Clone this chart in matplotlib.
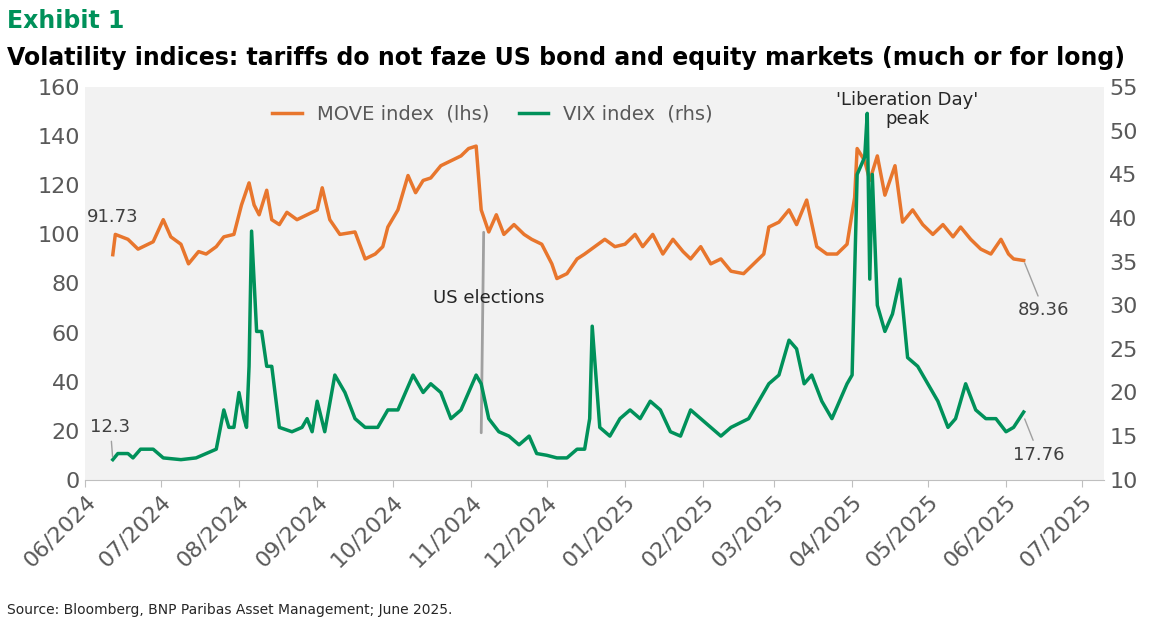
import matplotlib.pyplot as plt
import matplotlib.dates as mdates
import numpy as np
import pandas as pd

start = pd.Timestamp("2024-06-01")

move_days = [11, 12, 17, 21, 27, 31, 34, 38, 41, 45, 48, 52, 55, 59, 62, 65, 67, 69, 72, 74, 77, 80, 84, 88,
             92, 94, 97, 101, 107, 111, 115, 118, 120, 124, 128, 131, 134, 137, 141, 145, 149, 152, 155, 157,
             160, 163, 166, 170, 174, 177, 181, 185, 187, 191, 195, 198, 202, 206, 210, 214, 218, 221, 225,
             229, 233, 237, 240, 244, 248, 252, 256, 261, 265, 269, 271, 275, 279, 282, 286, 290, 294, 298,
             302, 305, 306, 309, 311, 314, 317, 321, 324, 328, 332, 336, 340, 344, 347, 351, 355, 359, 363,
             366, 368, 372]
move_vals = [91.73, 100, 98, 94, 97, 106, 99, 96, 88, 93, 92, 95, 99, 100, 112, 121, 112, 108, 118, 106,
             104, 109, 106, 108, 110, 119, 106, 100, 101, 90, 92, 95, 103, 110, 124, 117, 122, 123, 128,
             130, 132, 135, 136, 110, 101, 108, 100, 104, 100, 98, 96, 88, 82, 84, 90, 92, 95, 98, 95, 96,
             100, 95, 100, 92, 98, 93, 90, 95, 88, 90, 85, 84, 88, 92, 103, 105, 110, 104, 114, 95, 92, 92,
             96, 115, 135, 130, 122, 132, 116, 128, 105, 110, 104, 100, 104, 99, 103, 98, 94, 92, 98, 92,
             90, 89.36]

# VIX: (day offset from 2024-06-01, level)
vix_points = [
    (11, 12.3), (13, 13.0), (17, 13.0), (19, 12.5), (22, 13.5), (27, 13.5), (31, 12.5), (38, 12.3),
    (44, 12.5), (48, 13.0), (52, 13.5), (55, 18.0), (57, 16.0), (59, 16.0), (61, 20.0), (63, 17.0),
    (64, 16.0), (65, 23.0), (66, 38.5), (68, 27.0), (70, 27.0), (72, 23.0), (74, 23.0), (77, 16.0),
    (82, 15.5), (86, 16.0), (88, 17.0), (90, 15.5), (92, 19.0), (95, 15.5), (99, 22.0), (103, 20.0),
    (107, 17.0), (111, 16.0), (116, 16.0), (120, 18.0), (124, 18.0), (127, 20.0), (130, 22.0),
    (134, 20.0), (137, 21.0), (141, 20.0), (145, 17.0), (149, 18.0), (152, 20.0), (155, 22.0),
    (157, 21.0), (160, 17.0), (164, 15.5), (168, 15.0), (172, 14.0), (176, 15.0), (179, 13.0),
    (183, 12.8), (187, 12.5), (191, 12.5), (195, 13.5), (198, 13.5), (200, 17.0), (201, 27.6),
    (204, 16.0), (208, 15.0), (212, 17.0), (216, 18.0), (220, 17.0), (224, 19.0), (228, 18.0),
    (232, 15.5), (236, 15.0), (240, 18.0), (244, 17.0), (248, 16.0), (252, 15.0), (256, 16.0),
    (263, 17.0), (267, 19.0), (271, 21.0), (275, 22.0), (279, 26.0), (282, 25.0), (285, 21.0),
    (288, 22.0), (292, 19.0), (296, 17.0), (302, 21.0), (304, 22.0), (306, 45.0), (309, 47.0),
    (310, 52.0), (311, 33.0), (312, 45.0), (314, 30.0), (317, 27.0), (320, 29.0), (323, 33.0),
    (326, 24.0), (330, 23.0), (334, 21.0), (338, 19.0), (342, 16.0), (345, 17.0), (349, 21.0),
    (353, 18.0), (357, 17.0), (361, 17.0), (365, 15.5), (368, 16.0), (372, 17.76),
]
vix_days = [d for d, v in vix_points]
vix_vals = [v for d, v in vix_points]

move_dates = start + pd.to_timedelta(move_days, unit="D")
vix_dates = start + pd.to_timedelta(vix_days, unit="D")

orange = "#E8762D"
green = "#00915A"
grey = "#595959"

fig = plt.figure(figsize=(11.65, 6.23), dpi=100)
ax = fig.add_axes([0.073, 0.23, 0.875, 0.63])
ax2 = ax.twinx()
ax.set_facecolor("#f2f2f2")

l1, = ax.plot(move_dates, move_vals, color=orange, lw=2.5, label="MOVE index  (lhs)")
l2, = ax2.plot(vix_dates, vix_vals, color=green, lw=2.5, label="VIX index  (rhs)")

ax.set_ylim(0, 160)
ax2.set_ylim(10, 55)
ax.set_yticks(range(0, 161, 20))
ax2.set_yticks(range(10, 56, 5))
ax.set_xlim(pd.Timestamp("2024-06-01"), pd.Timestamp("2025-07-10"))
ax.xaxis.set_major_locator(mdates.MonthLocator())
ax.xaxis.set_major_formatter(mdates.DateFormatter("%m/%Y"))
for lab in ax.get_xticklabels():
    lab.set_rotation(45)
    lab.set_ha("right")
    lab.set_rotation_mode("anchor")

for a in (ax, ax2):
    a.tick_params(labelsize=16, colors=grey, length=0)
    for s in a.spines.values():
        s.set_visible(False)
ax.tick_params(axis="x", length=5, color="#bfbfbf")
ax.spines["bottom"].set_visible(True)
ax.spines["bottom"].set_color("#bfbfbf")

ax.legend(handles=[l1, l2], loc="upper center", bbox_to_anchor=(0.4, 1.0), ncol=2, frameon=False,
          fontsize=14, labelcolor=grey, handlelength=1.5, columnspacing=1.5)

ann = dict(fontsize=13, color="#404040")
ax.annotate("91.73", xy=(move_dates[0], move_vals[0]), xytext=(move_dates[0], 105), ha="center", **ann)
ax2.annotate("12.3", xy=(vix_dates[0], vix_vals[0]), xytext=(vix_dates[0] - pd.Timedelta(days=1), 15.5),
             ha="center", arrowprops=dict(arrowstyle="-", color="#a0a0a0"), **ann)
ax.annotate("89.36", xy=(move_dates[-1], move_vals[-1]), xytext=(move_dates[-1] + pd.Timedelta(days=8), 67),
            ha="center", arrowprops=dict(arrowstyle="-", color="#a0a0a0"), **ann)
ax2.annotate("17.76", xy=(vix_dates[-1], vix_vals[-1] - 0.5), xytext=(vix_dates[-1] + pd.Timedelta(days=6), 12.3),
             ha="center", arrowprops=dict(arrowstyle="-", color="#a0a0a0"), **ann)
ax.annotate("", xy=(pd.Timestamp("2024-11-05"), 18), xytext=(pd.Timestamp("2024-11-06"), 102),
            arrowprops=dict(arrowstyle="-", color="#a0a0a0", lw=2))
ax.text(pd.Timestamp("2024-11-08"), 72, "US elections", ha="center", fontsize=13, color="#262626")
ax.text(pd.Timestamp("2025-04-23"), 145, "'Liberation Day'\npeak", ha="center", fontsize=13, color="#262626",
        linespacing=1.1)

fig.text(0.006, 0.955, "Exhibit 1", fontsize=17, fontweight="bold", color=green)
fig.text(0.006, 0.895, "Volatility indices: tariffs do not faze US bond and equity markets (much or for long)",
         fontsize=17, fontweight="bold", color="black")
fig.text(0.006, 0.015, "Source: Bloomberg, BNP Paribas Asset Management; June 2025.", fontsize=10, color="#262626")

fig.savefig("out.png", dpi=100)
